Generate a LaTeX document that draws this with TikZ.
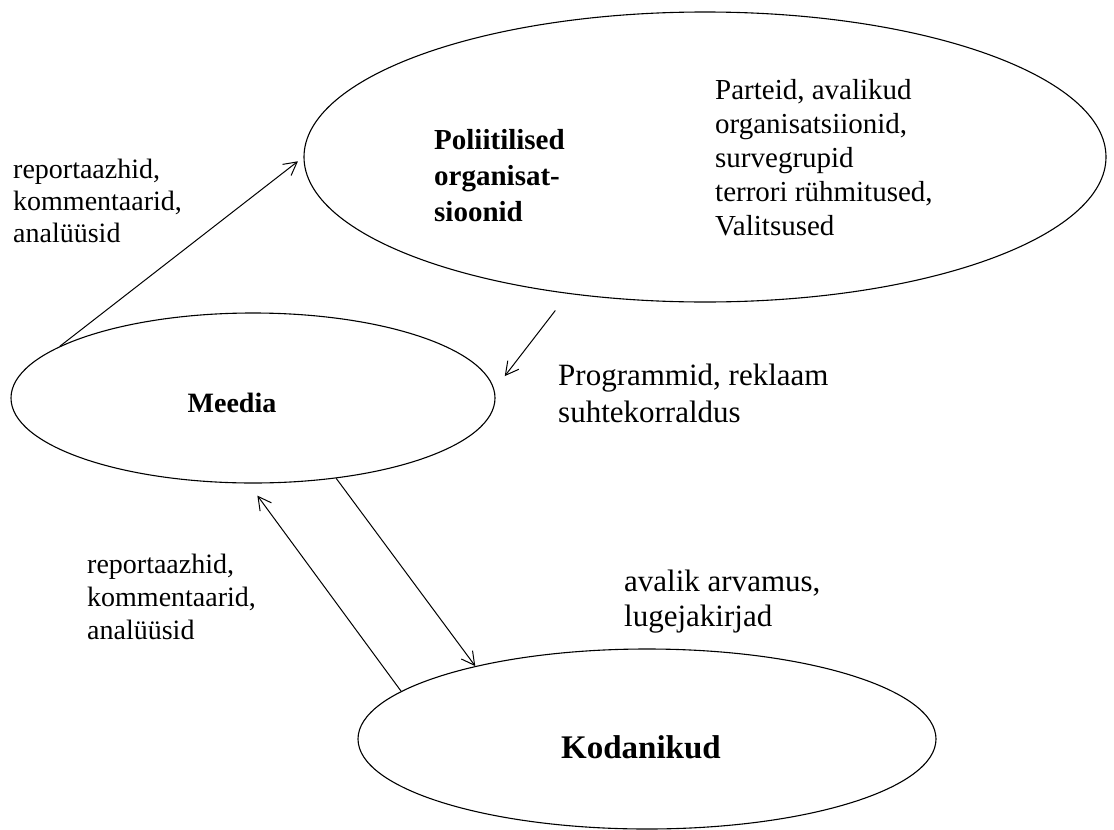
\documentclass[tikz,border=0pt]{standalone}
\usepackage{fontspec}
\setmainfont{Liberation Serif}
\usetikzlibrary{shapes.geometric,arrows.meta}

\begin{document}
\begin{tikzpicture}
[
    x = 1pt, y = -1pt,
    blob/.style = {draw, ellipse, line width=1.1pt, inner sep=0pt},
    flow/.style = {-{Straight Barb[length=13pt,width=14pt]}, line width=1pt},
    note/.style = {align=left, anchor=west, inner sep=0pt},
    title/.style = {align=left, inner sep=0pt, font=\bfseries}
]
\useasboundingbox (0,0) rectangle (1114,830);

% the three actors
\node[blob, minimum width=802pt, minimum height=290pt] (pol) at (705,157) {};
\node[blob, minimum width=484pt, minimum height=170pt] (meedia) at (253,398) {};
\node[blob, minimum width=578pt, minimum height=180pt] (kod) at (647,739) {};

\node[title, anchor=west, font=\bfseries\fontsize{29}{36}\selectfont] (poltitle) at (434,176)
    {Poliitilised\\organisat-\\sioonid};
\node[title, font=\bfseries\fontsize{28}{32}\selectfont] (meediatitle) at (232,403) {Meedia};
\node[title, font=\bfseries\fontsize{33}{38}\selectfont] (kodtitle) at (641,747) {Kodanikud};

% what each of them is made of / sends
\node[note, font=\fontsize{29}{34}\selectfont] (parteid) at (715,158)
    {Parteid, avalikud\\organisatsiionid,\\survegrupid\\terrori rühmitused,\\Valitsused};
\node[note, font=\fontsize{31}{37}\selectfont] (programmid) at (558,393)
    {Programmid, reklaam\\suhtekorraldus};
\node[note, font=\fontsize{31}{35}\selectfont] (arvamus) at (624,602)
    {avalik arvamus,\\lugejakirjad};
\node[note, font=\fontsize{28}{32}\selectfont] (reportaaz) at (13,201)
    {reportaazhid,\\kommentaarid,\\analüüsid};
\node[note, font=\fontsize{28}{33}\selectfont] (reportaazb) at (87,597)
    {reportaazhid,\\kommentaarid,\\analüüsid};

% flows
\draw[flow, shorten >=7pt] (meedia.165) -- (pol.180);
\draw[flow, shorten <=21pt, shorten >=17pt] (pol.225) -- (meedia.2);
\draw[flow] (meedia.316) -- (kod.157);
\draw[flow, shorten >=15pt] (kod.169) -- (meedia.267);
\end{tikzpicture}
\end{document}
